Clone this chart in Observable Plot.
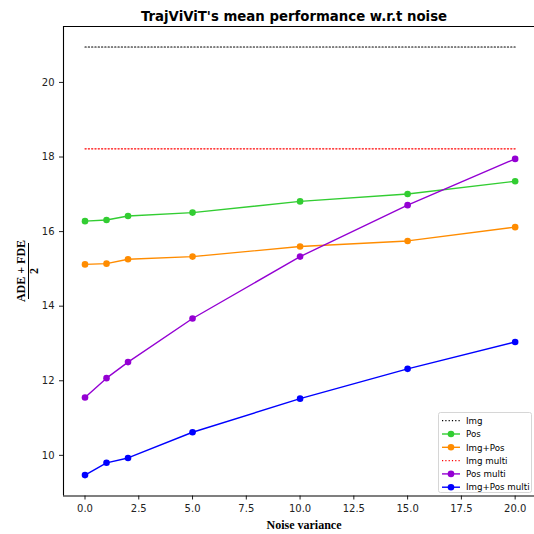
<!DOCTYPE html>
<html>
<head>
<meta charset="utf-8">
<script src="https://cdn.jsdelivr.net/npm/d3@7"></script>
<script src="https://cdn.jsdelivr.net/npm/@observablehq/plot@0.6"></script>
<style>
  html, body { margin: 0; padding: 0; background: #fff; }
  #chart { width: 534px; height: 534px; }
</style>
</head>
<body>
<div id="chart"></div>
<script>
// ---- data ----
const noise = [0, 1, 2, 5, 10, 15, 20];
const img         = [20.95, 20.95, 20.95, 20.95, 20.95, 20.95, 20.95];
const pos         = [16.28, 16.31, 16.42, 16.51, 16.81, 17.01, 17.35];
const imgPos      = [15.12, 15.14, 15.26, 15.33, 15.60, 15.75, 16.12];
const imgMulti    = [18.22, 18.22, 18.22, 18.22, 18.22, 18.22, 18.22];
const posMulti    = [11.55, 12.07, 12.50, 13.67, 15.33, 16.71, 17.95];
const imgPosMulti = [9.47, 9.80, 9.93, 10.62, 11.52, 12.32, 13.04];

const seriesNames  = ["Img", "Pos", "Img+Pos", "Img multi", "Pos multi", "Img+Pos multi"];
const seriesValues = [img, pos, imgPos, imgMulti, posMulti, imgPosMulti];
const seriesColors = ["#000000", "#32cd32", "#ff8c00", "#ff0000", "#9400d3", "#0000ff"];
const seriesDotted = [true, false, false, true, false, false];

const xTicks = [0, 2.5, 5, 7.5, 10, 12.5, 15, 17.5, 20];
const yTicks = [10, 12, 14, 16, 18, 20];

const titleText = "TrajViViT's mean performance w.r.t noise";
const xLabel = "Noise variance";

// ---- build rows ----
const rows = [];
seriesNames.forEach((name, i) => {
  noise.forEach((n, j) => rows.push({series: name, noise: n, value: seriesValues[i][j]}));
});
const solidRows = rows.filter(r => !seriesDotted[seriesNames.indexOf(r.series)]);
const dottedRows = rows.filter(r => seriesDotted[seriesNames.indexOf(r.series)]);

const xDomain = [-1, 20.9];
const yDomain = [8.91, 21.5];

const svg = Plot.plot({
  width: 534,
  height: 534,
  marginLeft: 63,
  marginRight: 0,
  marginTop: 26,
  marginBottom: 38.5,
  style: {fontFamily: "DejaVu Sans", fontSize: "10px", color: "#222", background: "#fff"},
  x: {domain: xDomain, ticks: xTicks, tickFormat: d => d.toFixed(1), tickSize: 4, label: null},
  y: {domain: yDomain, ticks: yTicks, tickSize: 4, label: null},
  color: {domain: seriesNames, range: seriesColors},
  marks: [
    Plot.ruleX([xDomain[0]], {stroke: "#000", strokeWidth: 1.1}),
    Plot.ruleY([yDomain[0], yDomain[1]], {stroke: "#000", strokeWidth: 1.1}),
    Plot.line(dottedRows, {x: "noise", y: "value", z: "series", stroke: "series", strokeWidth: 1.2, strokeDasharray: "1.2,2.1"}),
    Plot.line(solidRows, {x: "noise", y: "value", z: "series", stroke: "series", strokeWidth: 1.4}),
    Plot.dot(solidRows, {x: "noise", y: "value", fill: "series", r: 3.3})
  ]
});

document.getElementById("chart").appendChild(svg);

const s = d3.select(svg);
// title
s.append("text").attr("x", 294).attr("y", 21).attr("text-anchor", "middle")
  .style("font-family", "DejaVu Sans").style("font-weight", "bold").style("font-size", "13.3px")
  .attr("fill", "#000").text(titleText);
// x label
s.append("text").attr("x", 304).attr("y", 529).attr("text-anchor", "middle")
  .style("font-family", "Liberation Serif").style("font-weight", "bold").style("font-size", "12px")
  .attr("fill", "#000").text(xLabel);
// y label (fraction)
const yl = s.append("g").attr("transform", "translate(0,271) rotate(-90)");
yl.append("text").attr("x", 0).attr("y", 25).attr("text-anchor", "middle")
  .style("font-family", "Liberation Serif").style("font-weight", "bold").style("font-size", "12px")
  .attr("fill", "#000").text("ADE + FDE");
yl.append("line").attr("x1", -28).attr("x2", 28).attr("y1", 28.5).attr("y2", 28.5)
  .attr("stroke", "#000").attr("stroke-width", 1);
yl.append("text").attr("x", 0).attr("y", 38).attr("text-anchor", "middle")
  .style("font-family", "Liberation Serif").style("font-weight", "bold").style("font-size", "12px")
  .attr("fill", "#000").text("2");

// legend
const lg = s.append("g");
lg.append("rect").attr("x", 438.5).attr("y", 412.5).attr("width", 93).attr("height", 80)
  .attr("rx", 2).attr("fill", "#fff").attr("fill-opacity", 0.85).attr("stroke", "#d6d6d6").attr("stroke-width", 1);
seriesNames.forEach((name, i) => {
  const yy = 420.7 + i * 13.3;
  lg.append("line").attr("x1", 442).attr("x2", 460).attr("y1", yy).attr("y2", yy)
    .attr("stroke", seriesColors[i]).attr("stroke-width", seriesDotted[i] ? 1.2 : 1.4)
    .attr("stroke-dasharray", seriesDotted[i] ? "1.2,2.1" : null);
  if (!seriesDotted[i]) lg.append("circle").attr("cx", 451).attr("cy", yy).attr("r", 3.3).attr("fill", seriesColors[i]);
  lg.append("text").attr("x", 466).attr("y", yy + 3.2).attr("text-anchor", "start")
    .style("font-family", "DejaVu Sans").style("font-size", "8.7px").attr("fill", "#000").text(name);
});
</script>
</body>
</html>
